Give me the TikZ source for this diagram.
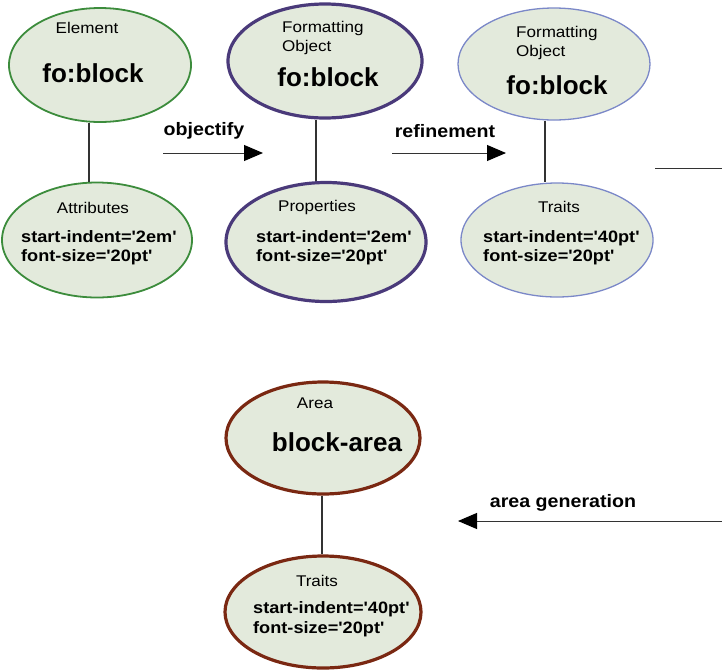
\documentclass[tikz,border=0pt]{standalone}
\usepackage{fontspec}
\setmainfont{Liberation Sans}
\newfontfamily\smallfont{Liberation Sans}[FakeStretch=1.1]
\newfontfamily\kvfont{Liberation Sans}[FakeStretch=1.1]
\newfontfamily\lblfont{Liberation Sans}[FakeStretch=1.09]
\usetikzlibrary{shapes.geometric,arrows.meta}
\definecolor{fillc}{HTML}{E3EADC}
\definecolor{greenc}{HTML}{3C8C3C}
\definecolor{purplec}{HTML}{4A3A7A}
\definecolor{bluec}{HTML}{7B88C8}
\definecolor{brownc}{HTML}{7A2812}
\definecolor{linec}{HTML}{333333}
\tikzset{
  oval/.style={ellipse, fill=fillc, inner sep=0pt},
  greenoval/.style={oval, draw=greenc, line width=1.8pt},
  purpleoval/.style={oval, draw=purplec, line width=3.2pt},
  blueoval/.style={oval, draw=bluec, line width=1.3pt},
  brownoval/.style={oval, draw=brownc, line width=3.2pt},
  small/.style={font=\smallfont\fontsize{15.5}{19.5}\selectfont, inner sep=0pt},
  big/.style={font=\bfseries\fontsize{26}{28}\selectfont, inner sep=0pt},
  kv/.style={font=\kvfont\bfseries\fontsize{16.5}{19.5}\selectfont, inner sep=0pt, align=left, anchor=west},
  lbl/.style={font=\lblfont\bfseries\fontsize{18}{20}\selectfont, inner sep=0pt},
  link/.style={draw=linec, line width=1.2pt},
  flow/.style={draw=linec, line width=1pt, -{Triangle[length=19pt,width=16pt,fill=black,color=black]}},
}
\begin{document}
\begin{tikzpicture}[x=1pt,y=-1pt]
\useasboundingbox (0,0) rectangle (722,670);
% top row
\node[greenoval, minimum width=182pt, minimum height=114pt] (e1) at (100,65) {};
\node[greenoval, minimum width=190pt, minimum height=115pt] (a1) at (97,240) {};
\node[purpleoval, minimum width=194pt, minimum height=114pt] (e2) at (325,61) {};
\node[purpleoval, minimum width=200pt, minimum height=119pt] (a2) at (326,242) {};
\node[blueoval, minimum width=192pt, minimum height=112pt] (e3) at (554,64) {};
\node[blueoval, minimum width=192pt, minimum height=114pt] (a3) at (557,240) {};
% bottom
\node[brownoval, minimum width=194pt, minimum height=112pt] (e4) at (323,438) {};
\node[brownoval, minimum width=196pt, minimum height=112pt] (a4) at (323,612) {};

% texts
\node[small] (t1) at (87,28) {Element};
\node[big] (b1) at (93,73) {fo:block};
\node[small] (t1b) at (93,208) {Attributes};
\node[kv] (k1) at (21,247.5) {start-indent='2em'\\font-size='20pt'};

\node[small, anchor=west, align=left] (t2) at (282,38) {Formatting\\Object};
\node[big] (b2) at (328,77) {fo:block};
\node[small] (t2b) at (317,207) {Properties};
\node[kv] (k2) at (256,247.5) {start-indent='2em'\\font-size='20pt'};

\node[small, anchor=west, align=left] (t3) at (516,43) {Formatting\\Object};
\node[big] (b3) at (557,85) {fo:block};
\node[small] (t3b) at (559,207) {Traits};
\node[kv] (k3) at (483,247.5) {start-indent='40pt'\\font-size='20pt'};

\node[small] (t4) at (315,403) {Area};
\node[big] (b4) at (337,442) {block-area};
\node[small] (t4b) at (317,581) {Traits};
\node[kv] (k4) at (253,619) {start-indent='40pt'\\font-size='20pt'};

% vertical links
\draw[link] ([xshift=-11pt]e1.south) -- ([xshift=-8pt]a1.north);
\draw[link] ([xshift=-9pt]e2.south) -- ([xshift=-10pt]a2.north);
\draw[link] ([xshift=-9pt]e3.south) -- ([xshift=-12pt]a3.north);
\draw[link] ([xshift=-1pt]e4.south) -- ([xshift=-1pt]a4.north);

% flow arrows
\coordinate (o1) at (163,153);
\coordinate (o2) at (263,153);
\coordinate (r1) at (392,153);
\coordinate (r2) at (506,153);
\coordinate (s1) at (655,168);
\coordinate (s2) at (722,168);
\coordinate (g1) at (722,521);
\coordinate (g2) at (458,521);
\draw[flow] (o1) -- (o2);
\draw[flow] (r1) -- (r2);
\draw[link, line width=1pt] (s1) -- (s2);
\draw[flow] (g1) -- (g2);
\node[lbl] (l1) at (204,131) {objectify};
\node[lbl] (l2) at (445,131) {refinement};
\node[lbl] (l3) at (563,503) {area generation};
\end{tikzpicture}
\end{document}
